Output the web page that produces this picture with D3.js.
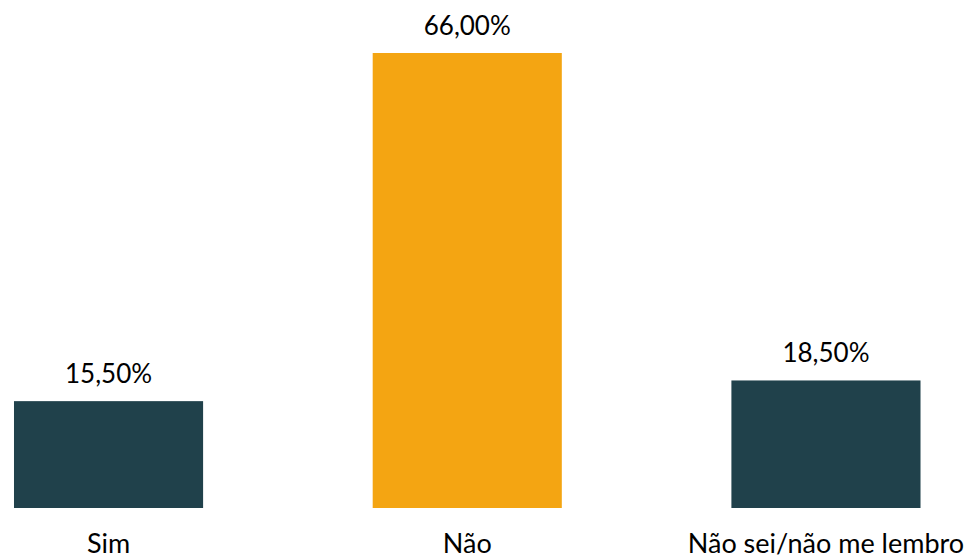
<!DOCTYPE html>
<html><head><meta charset="utf-8">
<script src="https://cdn.jsdelivr.net/npm/d3@7"></script>
<style>body{margin:0;background:#fff}svg{display:block}text{font-family:Lato,"Noto Sans",sans-serif;fill:#000}</style>
</head><body>
<script>
const categories = ["Sim", "Não", "Não sei/não me lembro"];
const values = [15.5, 66.0, 18.5];
const colors = ["#20414B", "#F4A512", "#20414B"];
const valueLabels = ["15,50%", "66,00%", "18,50%"];

const W = 971, H = 558;
const svg = d3.select("body").append("svg").attr("width", W).attr("height", H);
const baseline = 508, topY = 53;
const x = d3.scaleBand().domain(categories).range([0, 934.5]).paddingInner(0.4728).paddingOuter(0.039);
const y = d3.scaleLinear().domain([0, 66]).range([baseline, topY]);

svg.selectAll("rect.bar").data(values).join("rect")
  .attr("x", (d,i) => x(categories[i]))
  .attr("width", x.bandwidth())
  .attr("y", d => y(d))
  .attr("height", d => baseline - y(d))
  .attr("fill", (d,i) => colors[i]);

svg.selectAll("text.val").data(values).join("text")
  .attr("x", (d,i) => x(categories[i]) + x.bandwidth()/2)
  .attr("y", d => y(d) - 18)
  .attr("text-anchor", "middle")
  .attr("font-size", 26)
  .text((d,i) => valueLabels[i]);

svg.selectAll("text.cat").data(categories).join("text")
  .attr("x", d => x(d) + x.bandwidth()/2)
  .attr("y", 553)
  .attr("text-anchor", "middle")
  .attr("font-size", 27)
  .text(d => d);
</script>
</body></html>
